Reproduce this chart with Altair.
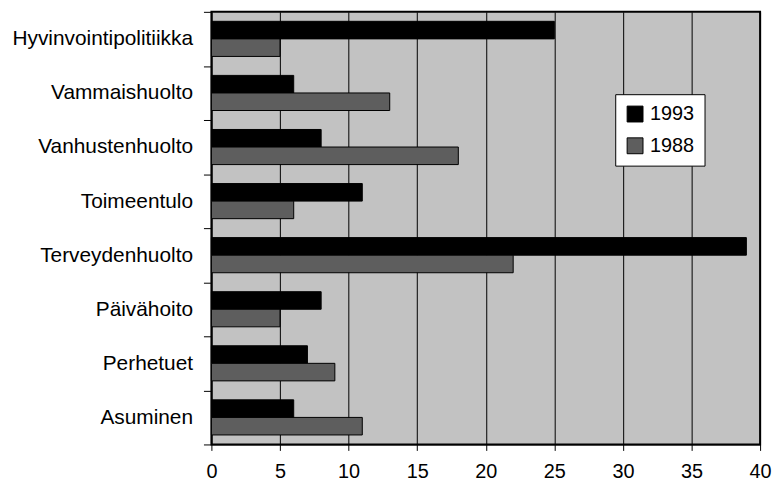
import altair as alt
import pandas as pd

categories = ["Hyvinvointipolitiikka", "Vammaishuolto", "Vanhustenhuolto", "Toimeentulo",
              "Terveydenhuolto", "Päivähoito", "Perhetuet", "Asuminen"]
values_1993 = [25, 6, 8, 11, 39, 8, 7, 6]
values_1988 = [5, 13, 18, 6, 22, 5, 9, 11]
years = ["1993", "1988"]
x_ticks = [0, 5, 10, 15, 20, 25, 30, 35, 40]

rows = []
for c, a, b in zip(categories, values_1993, values_1988):
    rows.append({"cat": c, "year": "1993", "value": a})
    rows.append({"cat": c, "year": "1988", "value": b})
df = pd.DataFrame(rows)

FONT = "Liberation Sans"

chart = alt.Chart(df).mark_bar(stroke="black", strokeWidth=1).encode(
    y=alt.Y("cat:N", sort=categories,
            scale=alt.Scale(paddingInner=0, paddingOuter=0),
            axis=alt.Axis(title=None, tickBand="extent", tickSize=8, labelPadding=11,
                          labelFontSize=21, labelFont=FONT, labelColor="black",
                          domainColor="black", tickColor="black", labelLimit=300,
                          grid=False)),
    yOffset=alt.YOffset("year:N", sort=years,
                        scale=alt.Scale(paddingInner=0, paddingOuter=0.54)),
    x=alt.X("value:Q", scale=alt.Scale(domain=[0, 40], nice=False),
            axis=alt.Axis(values=x_ticks, title=None, grid=True, gridColor="black",
                          gridOpacity=1, gridWidth=1, tickSize=6, labelPadding=11,
                          labelFontSize=20, labelFont=FONT, labelColor="black",
                          domainColor="black", tickColor="black", labelFlush=False)),
    color=alt.Color("year:N", sort=years,
                    scale=alt.Scale(domain=years, range=["#000000", "#5e5e5e"]),
                    legend=alt.Legend(title=None, orient="none", legendX=407, legendY=83,
                                      fillColor="white", strokeColor="black", padding=10,
                                      symbolType="square", symbolSize=256,
                                      symbolStrokeColor="black", symbolStrokeWidth=1,
                                      symbolOpacity=1, labelFontSize=20, labelFont=FONT,
                                      labelColor="black", rowPadding=12, labelOffset=5)),
).properties(
    width=553, height=436,
    autosize=alt.AutoSizeParams(type="none"),
    padding={"left": 205, "top": 2, "right": 12, "bottom": 39},
).configure_view(
    fill="#c2c2c2", stroke="black", strokeWidth=2
)

chart.save("out.html", embed_options={"renderer": "svg", "actions": False})
